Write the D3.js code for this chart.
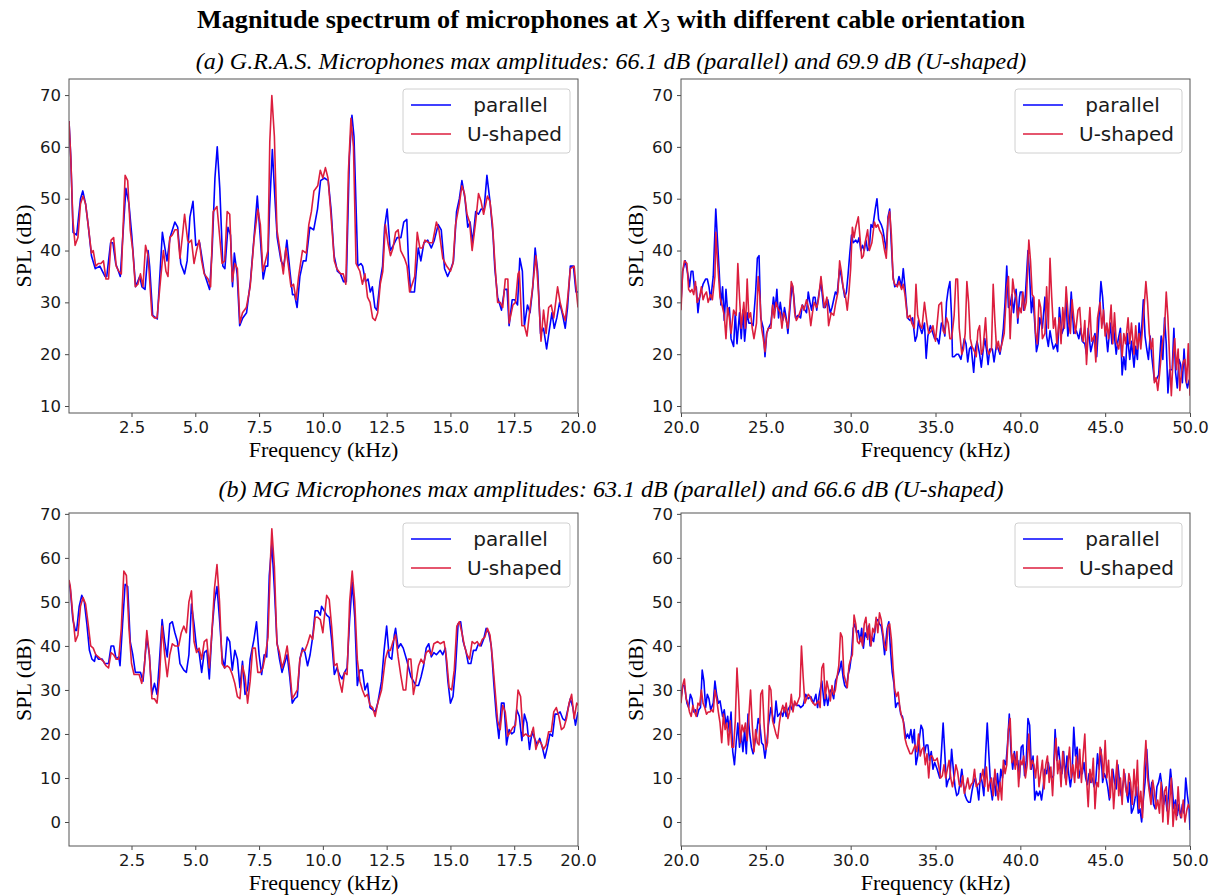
<!DOCTYPE html>
<html><head><meta charset="utf-8">
<script src="https://cdn.jsdelivr.net/npm/d3@7"></script>
<style>body{margin:0;background:#fff}</style>
</head><body>
<svg id="chart" width="1222" height="896"></svg>
<script>
// ---------- text ----------
const titleText = ["Magnitude spectrum of microphones at ", "X", "3", " with different cable orientation"];
const subtitleA = "(a) G.R.A.S. Microphones max amplitudes: 66.1 dB (parallel) and 69.9 dB (U-shaped)";
const subtitleB = "(b) MG Microphones max amplitudes: 63.1 dB (parallel) and 66.6 dB (U-shaped)";
const seriesNames = [" parallel", "U-shaped"];
const xLabel = "Frequency (kHz)";
const yLabel = "SPL (dB)";

// ---------- ticks ----------
const xTicksLow = [2.5, 5, 7.5, 10, 12.5, 15, 17.5, 20];
const xTicksHigh = [20, 25, 30, 35, 40, 45, 50];
const yTicksA = [10, 20, 30, 40, 50, 60, 70];
const yTicksB = [0, 10, 20, 30, 40, 50, 60, 70];

// ---------- data: [frequency kHz, SPL dB] ----------
const grasLowParallel = [[0.05,65],[0.12,58],[0.21,43.5],[0.35,43],[0.5,50],[0.59,51.5],[0.7,49],[0.8,45],[0.93,39],[1.08,36.5],[1.26,37],[1.46,35],[1.53,35],[1.68,41.5],[1.77,41.5],[1.88,37.5],[2.06,35],[2.28,52],[2.4,49],[2.51,43],[2.66,33],[2.82,35],[2.91,33],[3.03,32.5],[3.15,40],[3.21,37],[3.33,27.5],[3.51,26.8],[3.71,43.5],[3.89,38],[4.01,42.5],[4.2,45.5],[4.31,44.5],[4.43,37.5],[4.58,35.5],[4.68,38],[4.79,46.5],[4.91,49.5],[5.02,41],[5.17,41.5],[5.36,35.5],[5.56,32.5],[5.66,40],[5.77,54],[5.86,60],[5.96,52],[6.08,37],[6.16,36.5],[6.28,44.5],[6.38,43],[6.46,33],[6.53,39.5],[6.64,35.5],[6.74,25.5],[6.86,27],[7.01,28],[7.16,34],[7.31,43],[7.43,50.5],[7.54,43],[7.66,34.5],[7.76,37],[7.84,37],[7.91,48],[8.02,59.5],[8.11,51],[8.21,42.5],[8.36,38],[8.47,37],[8.59,42],[8.71,36],[8.81,31.5],[8.89,31.5],[8.99,29],[9.1,35],[9.23,38],[9.34,38],[9.49,44.5],[9.64,44],[9.79,48],[9.91,53.5],[10.06,54],[10.21,53.5],[10.32,48],[10.44,39],[10.57,36],[10.69,35.5],[10.81,34],[10.92,34],[11.04,58],[11.14,66.1],[11.22,62],[11.37,37],[11.49,37.5],[11.56,37],[11.67,34],[11.77,34.5],[11.86,32],[11.94,33],[12.04,29],[12.12,28.5],[12.24,34],[12.34,37],[12.42,44.5],[12.52,48],[12.64,40],[12.76,41],[12.91,42.5],[13.06,42.5],[13.17,45.5],[13.29,46],[13.36,37.5],[13.44,32],[13.59,32],[13.74,40.5],[13.84,38],[13.96,41.5],[14.11,42],[14.25,40.5],[14.37,42],[14.52,45],[14.64,44],[14.77,36.5],[14.89,35],[15.02,36.5],[15.12,38],[15.24,47.5],[15.35,50],[15.45,53.5],[15.57,50],[15.68,44.5],[15.77,45.5],[15.87,41.5],[15.99,47.5],[16.1,47],[16.2,48],[16.32,48],[16.43,54.5],[16.55,49.5],[16.67,43],[16.74,36.5],[16.85,31],[17.0,28.5],[17.12,32.5],[17.22,32.5],[17.3,25.5],[17.42,30.5],[17.52,30.5],[17.63,29.5],[17.72,38.5],[17.82,36],[17.9,25.5],[18.02,29.5],[18.12,28],[18.23,33],[18.32,40.5],[18.42,36],[18.53,24],[18.65,25],[18.77,21],[18.87,24.5],[18.98,28],[19.07,25],[19.17,27],[19.28,30],[19.4,27.5],[19.5,25],[19.59,29],[19.7,37],[19.82,37],[19.92,32],[20.0,32]];
const grasLowUshaped = [[0.05,65],[0.12,58],[0.2,46],[0.29,41],[0.4,42.5],[0.5,49],[0.6,50.5],[0.7,49],[0.8,45],[0.93,39.5],[1.0,40],[1.1,37],[1.2,37.5],[1.3,37.5],[1.4,38],[1.5,34.5],[1.6,34.5],[1.7,42],[1.8,42.5],[1.9,37],[2.0,36],[2.1,35.5],[2.25,54.5],[2.35,53.5],[2.45,44],[2.55,40],[2.65,33],[2.75,33.5],[2.85,35.5],[2.95,33],[3.05,41],[3.15,39],[3.3,27.5],[3.4,27],[3.5,27],[3.65,35],[3.75,40],[3.85,36],[3.93,35],[4.0,42.5],[4.1,43],[4.2,44],[4.3,44],[4.4,38.5],[4.5,43],[4.58,47],[4.7,42],[4.75,41.5],[4.85,42],[4.95,37.5],[5.05,40],[5.15,42],[5.25,38],[5.35,35.5],[5.5,34.5],[5.6,33],[5.7,47.5],[5.85,48.5],[5.95,43],[6.05,37.5],[6.15,38],[6.25,47.5],[6.35,47],[6.45,34],[6.55,37.5],[6.65,36.5],[6.75,26],[6.85,28],[7.0,29],[7.15,33],[7.3,42],[7.45,48],[7.55,45],[7.65,36],[7.75,38],[7.85,40],[7.92,61],[8.0,69.9],[8.1,62],[8.2,44],[8.35,39],[8.45,35.5],[8.55,40.5],[8.65,37],[8.75,33],[8.85,33.5],[8.95,30.5],[9.05,35],[9.2,40],[9.35,39.5],[9.45,45],[9.55,47.5],[9.65,51.5],[9.8,52.5],[9.9,55.5],[10.0,54],[10.1,56],[10.2,54],[10.3,48],[10.45,38],[10.55,36.5],[10.7,35.5],[10.8,35.5],[10.9,33.5],[11.0,55],[11.1,65.5],[11.2,60],[11.3,37.5],[11.45,36],[11.55,33.5],[11.65,35.5],[11.75,31],[11.85,30],[11.95,27],[12.05,26.5],[12.15,28],[12.25,33.5],[12.35,36],[12.45,45],[12.55,41.5],[12.65,39],[12.75,40.5],[12.85,43.5],[12.95,44],[13.05,40],[13.2,38.5],[13.3,37],[13.4,32],[13.5,33.5],[13.6,35],[13.7,43.5],[13.8,40.5],[13.9,40.5],[14.0,42],[14.15,41.5],[14.3,41.5],[14.45,45.5],[14.55,44],[14.7,38.5],[14.85,37],[15.0,36],[15.1,37.5],[15.2,45],[15.35,49],[15.45,52.5],[15.55,51],[15.65,47],[15.75,45.5],[15.85,40],[16.0,46],[16.1,51],[16.2,49.5],[16.3,47],[16.45,50.5],[16.55,49.5],[16.65,45],[16.75,37],[16.85,30],[16.95,30],[17.05,29],[17.15,34.5],[17.25,34.5],[17.3,26],[17.45,29.5],[17.55,30],[17.65,35.5],[17.7,36],[17.8,25.5],[17.9,25.5],[18.0,23.5],[18.1,28],[18.2,32],[18.35,39],[18.45,32],[18.55,22.5],[18.65,28.5],[18.75,24],[18.85,29],[18.95,29.5],[19.05,27],[19.2,33],[19.3,30],[19.4,28],[19.5,26.5],[19.6,31],[19.7,36.5],[19.85,37],[19.95,31.5],[20.0,29]];
const grasHighParallel = [[20.0,30],[20.1,36],[20.25,38],[20.4,35.5],[20.5,33],[20.6,36],[20.7,36],[20.8,32.5],[20.9,33],[21.0,28],[21.1,31],[21.3,33.5],[21.45,34.5],[21.55,34.5],[21.65,33],[21.75,30.5],[21.9,35],[22.05,48],[22.15,42],[22.25,36],[22.35,29.5],[22.45,33],[22.55,26.5],[22.65,32.5],[22.75,28],[22.85,29],[22.95,23],[23.1,21.5],[23.2,28],[23.3,22],[23.45,28],[23.55,23],[23.65,28.5],[23.75,22.5],[23.9,28],[24.0,26],[24.15,26],[24.25,25.5],[24.4,32],[24.5,38.5],[24.6,39],[24.7,27],[24.85,25],[24.95,19.5],[25.05,24],[25.15,25],[25.3,26],[25.45,31],[25.55,28.5],[25.65,32.5],[25.75,27],[25.85,30],[26.0,26.5],[26.1,29],[26.2,27],[26.3,24],[26.45,30],[26.55,33.5],[26.65,31],[26.75,27],[26.9,27.5],[27.05,27],[27.15,29.5],[27.3,28.5],[27.4,28],[27.5,32],[27.6,30],[27.7,28.5],[27.8,31],[27.9,31],[28.0,28.5],[28.1,31],[28.25,34],[28.4,29],[28.5,29],[28.65,30.5],[28.8,28],[28.9,29],[29.1,32],[29.2,31.5],[29.35,36.5],[29.45,35],[29.55,33],[29.65,31],[29.75,32],[29.85,35.5],[29.95,39.5],[30.05,43],[30.15,41.5],[30.3,42],[30.4,41.5],[30.5,42.5],[30.6,40],[30.7,41],[30.8,40],[30.9,42],[31.0,40],[31.1,40.5],[31.2,45],[31.3,44.5],[31.45,48],[31.55,50],[31.65,46],[31.8,45],[31.9,44],[32.0,42],[32.1,40],[32.2,46.5],[32.3,48],[32.4,41],[32.5,35],[32.6,33],[32.75,33.5],[32.85,35],[33.0,33],[33.1,36.5],[33.2,33],[33.35,27],[33.5,26.5],[33.65,27],[33.8,22.5],[33.9,23.5],[34.0,26.5],[34.1,25],[34.2,24],[34.35,26],[34.45,19.2],[34.55,23.5],[34.7,25.5],[34.8,24.5],[34.95,23],[35.1,23],[35.2,22],[35.35,26],[35.45,25.5],[35.55,23.5],[35.65,30],[35.75,32.5],[35.85,34],[35.95,27],[36.0,19.5],[36.1,19.5],[36.25,20],[36.35,20],[36.5,19],[36.6,21],[36.7,23],[36.8,22],[36.9,18.5],[37.0,21],[37.1,21.5],[37.25,16.5],[37.35,21],[37.45,22.5],[37.6,20],[37.7,17.5],[37.8,20.5],[37.9,23],[38.0,21],[38.1,18],[38.2,21],[38.35,21],[38.45,18.5],[38.6,22],[38.7,21],[38.8,20],[38.9,22],[39.0,25],[39.1,30],[39.2,37],[39.3,29],[39.4,29.5],[39.5,31.5],[39.6,28],[39.75,32.5],[39.85,26],[39.95,31],[40.0,32],[40.1,32],[40.2,28.5],[40.3,31.5],[40.45,40],[40.55,35],[40.65,28],[40.75,31],[40.85,26],[40.95,20.5],[41.05,22],[41.15,27],[41.3,25],[41.45,31],[41.55,23.5],[41.65,21.5],[41.75,24.5],[41.85,22.5],[41.95,21],[42.1,22],[42.2,20.5],[42.3,29],[42.45,24],[42.55,25],[42.7,30],[42.8,23.5],[42.9,26],[43.0,32],[43.15,24],[43.3,24.5],[43.45,23],[43.55,25],[43.65,22.5],[43.8,22],[43.9,20],[44.0,25],[44.15,20.5],[44.25,22],[44.4,24],[44.5,19.5],[44.6,25],[44.75,34],[44.85,31],[44.95,26],[45.05,24],[45.15,20.5],[45.3,26],[45.4,22],[45.5,25],[45.65,20],[45.75,22.5],[45.9,25],[46.0,16],[46.1,19.5],[46.2,17],[46.3,24],[46.45,19],[46.55,22.5],[46.7,17.5],[46.8,21.5],[46.9,19],[47.0,26],[47.1,22],[47.25,30.5],[47.35,23.5],[47.45,21],[47.55,19],[47.65,23.5],[47.75,19.5],[47.9,15],[48.0,15],[48.15,16],[48.3,23.5],[48.4,19],[48.5,27],[48.6,22],[48.7,12.5],[48.8,17],[48.95,17],[49.05,25],[49.15,16.5],[49.25,13.5],[49.35,19],[49.45,18],[49.55,14.5],[49.65,21],[49.75,15],[49.85,13.5],[49.95,15],[50.0,14.5]];
const grasHighUshaped = [[20.0,28.5],[20.1,36],[20.2,38],[20.35,37.5],[20.45,32.5],[20.55,32],[20.65,32.5],[20.75,31.5],[20.85,34],[20.95,30],[21.1,31],[21.2,33],[21.3,30.5],[21.4,31.5],[21.5,32],[21.6,30],[21.75,31.5],[21.85,30.5],[22.0,35],[22.05,43.5],[22.15,38],[22.3,31],[22.45,29],[22.55,27.5],[22.65,23],[22.75,29],[22.85,27],[22.95,24],[23.1,28.5],[23.25,27.5],[23.35,37.5],[23.45,31],[23.55,25],[23.7,30],[23.8,25],[23.9,34.5],[24.0,27],[24.1,28],[24.2,25],[24.3,23],[24.45,26],[24.55,35],[24.65,31],[24.75,25],[24.85,23],[24.95,20.5],[25.05,24],[25.15,25],[25.3,25],[25.4,29.5],[25.5,27],[25.6,30],[25.7,29],[25.85,28],[25.95,25],[26.05,28],[26.2,26.5],[26.3,25],[26.4,29],[26.5,34],[26.6,33],[26.7,28],[26.8,26.5],[26.95,27.5],[27.05,28.5],[27.15,29.5],[27.25,28.5],[27.4,30.5],[27.55,28.5],[27.65,25.5],[27.75,28],[27.85,30],[28.0,29],[28.1,30.5],[28.25,35],[28.35,32],[28.45,29],[28.6,31],[28.7,25.5],[28.85,28],[29.0,27.5],[29.1,29.5],[29.25,32],[29.35,38],[29.45,36],[29.55,33],[29.7,31],[29.8,28.5],[29.9,32],[30.0,36.5],[30.1,44.5],[30.2,42.5],[30.3,44.5],[30.45,46.5],[30.55,42.5],[30.65,38.5],[30.75,39],[30.85,41.5],[31.0,44],[31.1,40],[31.25,41.5],[31.4,45.5],[31.5,44.5],[31.6,45],[31.7,44],[31.85,43],[32.0,40],[32.1,38.5],[32.2,46],[32.3,47.5],[32.4,43],[32.5,34.5],[32.6,33.5],[32.75,33],[32.85,34],[33.0,32.5],[33.1,33.5],[33.2,31.5],[33.35,27],[33.5,27.5],[33.6,26],[33.75,25],[33.85,33.5],[33.95,27.5],[34.1,25.5],[34.2,25],[34.35,30],[34.5,26],[34.6,24],[34.75,24.5],[34.85,25.5],[35.0,22.5],[35.1,26],[35.2,29.5],[35.35,30],[35.45,24.5],[35.55,24],[35.65,27],[35.75,26],[35.85,23],[35.95,23],[36.1,27.5],[36.2,34.5],[36.3,34.5],[36.4,25],[36.55,20],[36.65,21],[36.75,24],[36.85,34],[36.95,30],[37.05,23],[37.15,21.5],[37.3,20.5],[37.4,19.5],[37.5,24.5],[37.6,25.5],[37.7,20],[37.8,21],[37.95,27],[38.05,21],[38.15,20],[38.3,21],[38.4,33.5],[38.5,26.5],[38.6,21],[38.7,22.5],[38.8,20.5],[38.95,22.5],[39.05,24],[39.2,33],[39.3,35],[39.4,23],[39.55,34.5],[39.65,32],[39.75,31],[39.85,27],[39.95,29],[40.05,28],[40.15,32],[40.25,28.5],[40.35,30],[40.5,42],[40.6,38],[40.7,31.5],[40.8,31],[40.9,24],[41.0,22],[41.1,30.5],[41.2,29],[41.3,23],[41.45,24],[41.55,33],[41.65,25],[41.75,38.5],[41.85,31],[41.95,25],[42.05,27],[42.15,22],[42.3,27],[42.4,22],[42.5,29],[42.6,25],[42.7,33],[42.85,26],[42.95,24],[43.05,30.5],[43.15,27],[43.25,24],[43.4,28.5],[43.5,29],[43.6,24],[43.7,22.5],[43.8,26.5],[43.9,18],[44.0,24],[44.1,29],[44.2,22.5],[44.35,23.5],[44.45,18.5],[44.55,27],[44.7,30],[44.8,25],[44.9,28.5],[45.0,23.5],[45.1,26],[45.2,23],[45.35,29.5],[45.45,22],[45.55,28],[45.65,22.5],[45.8,21],[45.9,24],[46.0,19.5],[46.1,24],[46.2,22],[46.35,27],[46.45,22],[46.55,26],[46.7,20],[46.8,25.5],[46.9,21],[47.0,24],[47.1,21],[47.25,27],[47.4,34],[47.5,30],[47.6,24],[47.7,21],[47.8,23],[47.9,14.5],[48.0,15.5],[48.1,13],[48.2,16],[48.35,21.5],[48.5,25],[48.6,32],[48.7,27],[48.8,19],[48.9,12],[49.0,19],[49.1,23],[49.2,17],[49.3,21],[49.4,13],[49.5,16.5],[49.6,18.5],[49.7,19],[49.8,14.5],[49.9,22],[50.0,12]];
const mgLowParallel = [[0.05,54.5],[0.1,53],[0.2,46],[0.3,43.5],[0.35,43.5],[0.45,49],[0.55,51.5],[0.65,50],[0.75,45],[0.85,39],[0.95,37],[1.05,36.5],[1.1,38],[1.2,37],[1.35,37],[1.45,36],[1.6,36],[1.7,40],[1.8,40],[1.9,37],[2.0,37.5],[2.05,35.5],[2.15,45],[2.25,54],[2.35,53.5],[2.45,41],[2.55,38],[2.65,34],[2.75,34],[2.85,34],[2.95,32],[3.1,42],[3.2,38],[3.3,29],[3.4,31.5],[3.5,29],[3.6,37],[3.7,46],[3.8,41],[3.9,37.5],[4.0,45],[4.1,45.5],[4.2,43],[4.3,41],[4.4,36],[4.55,34.5],[4.65,34],[4.75,38],[4.85,49.5],[4.95,45],[5.05,39.5],[5.15,38.5],[5.25,34],[5.35,38.5],[5.45,39],[5.55,32.5],[5.65,43],[5.75,50],[5.85,53.5],[5.95,46],[6.05,37.5],[6.15,35],[6.25,42],[6.35,41],[6.45,34.5],[6.55,39],[6.65,37],[6.75,30.5],[6.85,36.5],[6.95,29],[7.05,30],[7.15,37],[7.3,41.5],[7.4,45.5],[7.5,38],[7.6,33.5],[7.7,38],[7.8,37.5],[7.9,56],[8.0,63.1],[8.1,53],[8.2,41],[8.3,37],[8.4,34],[8.5,36],[8.6,38],[8.7,33],[8.8,27],[8.9,28],[9.0,28.5],[9.1,37],[9.2,39.5],[9.3,38.5],[9.4,35.5],[9.5,38],[9.6,42],[9.7,48],[9.8,48],[9.9,47],[9.95,49],[10.05,48],[10.15,47],[10.25,46.5],[10.35,41],[10.45,33.5],[10.55,35],[10.65,33.5],[10.75,32.5],[10.85,34],[10.95,35],[11.05,46],[11.15,54.5],[11.25,46.5],[11.35,31],[11.45,34.5],[11.55,34.5],[11.65,30],[11.75,31.5],[11.85,26],[11.95,25.5],[12.05,25],[12.15,27],[12.3,32],[12.4,39],[12.5,44.5],[12.6,37.5],[12.7,37],[12.8,42.5],[12.85,44],[12.95,39.5],[13.05,40.5],[13.15,39.5],[13.3,36.5],[13.45,33],[13.55,32],[13.65,31],[13.75,31],[13.85,33],[13.95,35.5],[14.05,39.5],[14.15,40.5],[14.25,37.5],[14.35,38.5],[14.45,38],[14.6,39],[14.7,38],[14.8,39.5],[14.9,32],[15.0,27],[15.1,28.5],[15.2,35],[15.3,45],[15.4,45.5],[15.5,41],[15.6,39],[15.7,36],[15.8,36],[15.9,39],[16.0,39],[16.1,40.5],[16.2,40],[16.3,41.5],[16.4,44],[16.5,43],[16.6,40],[16.7,31.5],[16.8,24],[16.9,19],[17.0,27],[17.1,27],[17.2,17.5],[17.3,21],[17.4,20],[17.5,20.5],[17.6,25.5],[17.7,24],[17.8,18.5],[17.9,24.5],[18.0,22.5],[18.1,16.5],[18.2,20.5],[18.3,19],[18.4,17.5],[18.5,19],[18.6,17],[18.7,14.5],[18.8,17],[18.9,20],[19.0,19.5],[19.1,24.5],[19.2,24.5],[19.3,25],[19.4,23.5],[19.5,23],[19.6,25.5],[19.7,28],[19.8,26],[19.9,22],[20.0,25]];
const mgLowUshaped = [[0.05,55],[0.1,53.5],[0.2,47],[0.3,41],[0.4,42.5],[0.5,49],[0.6,51],[0.7,49.5],[0.8,45],[0.9,40],[1.0,39.5],[1.1,38],[1.2,37.5],[1.3,37],[1.4,36.5],[1.5,35.5],[1.6,35],[1.7,38.5],[1.8,38],[1.9,37],[2.0,37],[2.1,44],[2.2,57],[2.3,56],[2.4,44],[2.5,36],[2.6,33.5],[2.7,33.5],[2.8,33.5],[2.9,31.5],[3.0,35],[3.1,43.5],[3.2,38],[3.3,28],[3.4,28],[3.5,27],[3.6,33],[3.7,44.5],[3.8,38],[3.9,33],[4.0,38],[4.1,40.5],[4.2,40],[4.35,40],[4.45,43],[4.55,44.5],[4.65,43],[4.75,50],[4.85,52.5],[4.95,41],[5.05,38.5],[5.15,39.5],[5.25,37],[5.35,41],[5.45,41.5],[5.55,35],[5.65,43],[5.75,53],[5.85,58.5],[5.95,50],[6.05,36],[6.15,35],[6.25,35.5],[6.35,35],[6.45,33.5],[6.55,31.5],[6.65,28.5],[6.75,28],[6.85,35.5],[6.95,33],[7.05,27],[7.15,32],[7.25,39.5],[7.35,39.5],[7.45,34],[7.55,34],[7.65,35],[7.75,38],[7.85,42],[7.95,60],[8.0,66.6],[8.1,58],[8.2,40.5],[8.3,38.5],[8.4,35],[8.5,37],[8.6,40],[8.7,35],[8.8,28],[8.9,29],[9.0,30],[9.1,37],[9.2,39],[9.3,39],[9.4,40.5],[9.5,42.5],[9.6,41.5],[9.7,46.5],[9.8,46.5],[9.9,46],[10.0,43],[10.05,46],[10.15,51.5],[10.25,50.5],[10.35,44],[10.45,35.5],[10.55,36],[10.65,32],[10.75,29.5],[10.85,34],[10.95,33.5],[11.05,50],[11.15,57],[11.25,50],[11.35,37],[11.45,32],[11.55,30],[11.65,28.5],[11.75,29],[11.85,26.5],[11.95,26],[12.05,24],[12.15,27],[12.3,30],[12.45,37],[12.55,39],[12.65,39],[12.75,41],[12.85,42.5],[12.95,37.5],[13.05,33.5],[13.15,30],[13.25,30],[13.35,37],[13.45,37],[13.55,29],[13.65,32],[13.75,35.5],[13.85,37],[13.95,36],[14.05,38.5],[14.15,39],[14.25,38],[14.35,40.5],[14.5,41],[14.6,40.5],[14.75,41],[14.85,37],[14.95,30.5],[15.05,30],[15.15,34.5],[15.25,44.5],[15.35,45.5],[15.45,43],[15.55,40],[15.65,38],[15.75,37],[15.85,41],[15.95,40.5],[16.05,41],[16.15,40],[16.25,41.5],[16.35,42],[16.45,44],[16.55,42.5],[16.65,37],[16.75,30],[16.85,23],[16.95,21],[17.05,26.5],[17.15,25],[17.25,19.5],[17.35,20.5],[17.45,21.5],[17.55,22],[17.65,30],[17.75,28.5],[17.85,19.5],[17.95,20],[18.05,19.5],[18.15,19.5],[18.25,21.5],[18.35,16.5],[18.45,18.5],[18.55,18],[18.65,16.5],[18.75,17.5],[18.85,20.5],[18.95,20.5],[19.05,25],[19.15,26],[19.25,24],[19.35,21],[19.45,21.5],[19.55,23.5],[19.65,27],[19.75,29],[19.85,23.5],[19.95,27],[20.0,26.5]];
const mgHighParallel = [[20.0,28],[20.1,31],[20.2,31],[20.35,27],[20.45,26],[20.55,29],[20.65,28],[20.75,25],[20.85,25.5],[20.95,24],[21.05,25.5],[21.15,26],[21.25,34.5],[21.35,32],[21.45,26],[21.55,29],[21.65,28],[21.75,25.5],[21.9,27],[22.0,32],[22.1,29],[22.2,27],[22.3,27.5],[22.45,24],[22.55,25.5],[22.65,22],[22.75,24],[22.85,20.5],[22.95,25],[23.05,16],[23.15,13],[23.25,18],[23.35,22.5],[23.45,17],[23.55,20],[23.65,16],[23.75,21],[23.85,15.5],[23.95,24.5],[24.05,20],[24.15,17],[24.25,15.5],[24.35,18],[24.45,20],[24.55,23.5],[24.65,22],[24.75,18],[24.85,17.5],[24.95,14.5],[25.05,17.5],[25.15,22],[25.3,26],[25.4,24],[25.5,22.5],[25.6,27.5],[25.7,24],[25.8,24.5],[25.9,25],[26.0,24],[26.1,26],[26.2,24],[26.3,25.5],[26.45,26.5],[26.55,25.5],[26.7,27],[26.8,26.5],[26.95,26.5],[27.05,26],[27.2,26.5],[27.35,29],[27.5,28],[27.65,28.5],[27.8,27],[27.95,29],[28.05,26],[28.15,29],[28.3,32],[28.45,26.5],[28.55,29],[28.65,26.5],[28.8,30],[28.9,29.5],[29.0,28],[29.1,32],[29.2,33],[29.35,34.5],[29.45,36.5],[29.55,33],[29.65,31],[29.75,30.5],[29.85,33.5],[29.95,35],[30.05,38],[30.15,44],[30.25,45],[30.35,43],[30.45,43.5],[30.55,41],[30.65,44],[30.75,39.5],[30.85,43],[30.95,42],[31.05,44.5],[31.15,40],[31.25,42],[31.35,41],[31.5,45.5],[31.6,46],[31.7,45],[31.8,44.5],[31.9,42],[32.0,38],[32.15,44],[32.25,45.5],[32.35,39],[32.45,34],[32.55,31.5],[32.65,26],[32.75,27],[32.85,27],[32.95,24.5],[33.05,24],[33.15,22],[33.25,19],[33.35,20],[33.45,19],[33.55,21],[33.65,18],[33.75,21],[33.85,13],[33.95,15],[34.05,19],[34.15,22],[34.25,21],[34.35,15.5],[34.45,17.5],[34.55,17.5],[34.65,14],[34.75,16],[34.85,12],[34.95,13.5],[35.1,12],[35.25,10],[35.35,16],[35.45,22.5],[35.55,15.5],[35.65,8],[35.75,9.5],[35.85,10],[35.95,16.5],[36.05,12],[36.15,8],[36.25,6],[36.35,6.5],[36.45,9],[36.55,12],[36.65,8.5],[36.75,6],[36.85,5],[36.95,4.5],[37.05,4.5],[37.15,7],[37.25,9],[37.35,10],[37.45,8],[37.55,5],[37.65,11],[37.75,9],[37.85,6],[37.95,15],[38.05,22.5],[38.15,15],[38.25,8],[38.35,5],[38.45,10],[38.55,6],[38.65,11],[38.75,7],[38.85,12],[38.95,10],[39.05,14],[39.15,13],[39.25,18],[39.35,24.5],[39.45,16],[39.55,12],[39.65,16],[39.75,13],[39.85,14],[39.95,10],[40.05,17],[40.15,17.5],[40.25,10.5],[40.35,14],[40.45,23.5],[40.55,22],[40.65,12],[40.75,15],[40.85,5],[40.95,7],[41.05,6],[41.15,7],[41.25,5],[41.35,8],[41.45,12],[41.55,11],[41.65,13.5],[41.75,11],[41.85,10],[41.95,10.5],[42.05,21],[42.15,14],[42.25,17],[42.35,13],[42.45,11],[42.55,16],[42.65,10],[42.75,15],[42.85,11],[42.95,8],[43.05,11],[43.15,21.5],[43.25,15],[43.35,17],[43.45,10],[43.55,12],[43.65,11],[43.75,13.5],[43.85,10],[43.95,8.5],[44.05,11],[44.15,9],[44.25,10],[44.35,8],[44.45,9.5],[44.55,15.5],[44.65,12],[44.75,16.5],[44.85,9],[44.95,11],[45.05,10],[45.15,8],[45.25,5],[45.35,9.5],[45.45,12],[45.55,9],[45.65,7.5],[45.75,13],[45.85,9],[45.95,6],[46.05,8.5],[46.15,11],[46.25,7],[46.35,4.5],[46.45,9],[46.55,2],[46.65,3],[46.75,5],[46.85,8],[46.95,2],[47.05,3],[47.15,0],[47.25,5],[47.35,9],[47.45,16.5],[47.55,10],[47.65,6],[47.75,9],[47.85,4],[47.95,3],[48.05,8],[48.15,9],[48.25,11],[48.35,8],[48.45,4],[48.55,6],[48.65,2.5],[48.75,7],[48.85,12],[48.95,8],[49.05,3],[49.15,5],[49.25,1.5],[49.35,4],[49.45,1],[49.55,4],[49.65,2],[49.75,10],[49.85,6],[49.95,3],[50.0,-1.8]];
const mgHighUshaped = [[20.0,27],[20.1,31],[20.2,32.5],[20.3,28],[20.4,27],[20.5,25],[20.6,24],[20.7,26.5],[20.8,25],[20.9,24],[21.0,27],[21.1,26.5],[21.2,30],[21.3,27],[21.4,26],[21.5,24.5],[21.6,25],[21.7,25],[21.8,25.5],[21.9,25],[22.0,30],[22.1,28],[22.2,25],[22.3,22.5],[22.4,18],[22.5,24.5],[22.6,21],[22.7,22.5],[22.8,17.5],[22.9,23],[23.0,17],[23.1,17],[23.2,23],[23.3,35],[23.4,28],[23.5,18],[23.6,22],[23.7,20.5],[23.8,22.5],[23.9,18.5],[24.0,24],[24.1,30],[24.2,22],[24.3,16],[24.4,21],[24.5,18],[24.6,17.5],[24.7,29],[24.8,30],[24.9,22],[25.0,16.5],[25.1,18],[25.2,31],[25.3,30],[25.4,23],[25.5,21.5],[25.6,20],[25.7,19],[25.8,22.5],[25.9,25],[26.0,26.5],[26.1,25],[26.2,27],[26.3,23.5],[26.4,25],[26.5,29],[26.6,25],[26.7,27.5],[26.8,26.5],[26.9,27.5],[27.0,28.5],[27.1,40],[27.2,33],[27.3,27],[27.4,28],[27.5,29],[27.6,28.5],[27.7,27.5],[27.8,27],[27.9,26.5],[28.0,27],[28.1,27.5],[28.2,26],[28.3,35],[28.4,36],[28.5,28],[28.6,32],[28.7,30],[28.8,27.5],[28.9,31],[29.0,29],[29.1,30],[29.2,33],[29.3,35.5],[29.4,43],[29.5,42],[29.6,33.5],[29.7,32],[29.8,30.5],[29.9,35.5],[30.0,37],[30.1,38],[30.2,47],[30.3,45],[30.4,41],[30.5,40.5],[30.6,42],[30.7,40],[30.8,45],[30.9,46.5],[31.0,41.5],[31.1,45],[31.2,40],[31.3,44],[31.4,43],[31.5,46.5],[31.6,43],[31.7,47.5],[31.8,46],[31.9,43],[32.0,40],[32.1,39],[32.2,44.5],[32.3,45],[32.4,41.5],[32.5,35],[32.6,30],[32.7,28.5],[32.8,29.5],[32.9,26],[33.0,24],[33.1,23],[33.2,19],[33.3,17.5],[33.4,16.5],[33.5,15.5],[33.6,15.5],[33.7,16.5],[33.8,17.5],[33.9,16],[34.0,20],[34.1,15],[34.2,16.5],[34.3,17],[34.4,13],[34.5,15.5],[34.6,10],[34.7,15],[34.8,15],[34.9,14],[35.0,14],[35.1,14.5],[35.2,12.5],[35.3,10],[35.4,10.5],[35.5,13],[35.6,10],[35.7,12],[35.8,14],[35.9,10],[36.0,8],[36.1,10],[36.2,13],[36.3,11.5],[36.4,8.5],[36.5,8],[36.6,10.5],[36.7,6.5],[36.8,8],[36.9,10],[37.0,7.5],[37.1,8.5],[37.2,9],[37.3,12],[37.4,8],[37.5,8.5],[37.6,9],[37.7,10],[37.8,12],[37.9,8],[38.0,12.5],[38.1,7],[38.2,9],[38.3,10],[38.4,6],[38.5,12],[38.6,8],[38.7,5],[38.8,9],[38.9,5],[39.0,14],[39.1,11],[39.2,13],[39.3,21],[39.4,23.5],[39.5,13.5],[39.6,15.5],[39.7,12],[39.8,16],[39.9,8],[40.0,14],[40.1,13],[40.2,15],[40.3,10],[40.4,13],[40.5,20],[40.6,12],[40.7,14],[40.8,13],[40.9,10],[41.0,15],[41.1,8],[41.2,11],[41.3,14],[41.4,7.5],[41.5,13],[41.6,15],[41.7,9],[41.8,12.5],[41.9,6],[42.0,14],[42.1,19],[42.2,11],[42.3,14],[42.4,8],[42.5,16],[42.6,12],[42.7,8.5],[42.8,13],[42.9,17],[43.0,10],[43.1,13],[43.2,9],[43.3,15],[43.4,10],[43.5,16.5],[43.6,9],[43.7,15],[43.8,20],[43.9,10],[44.0,3.5],[44.1,12],[44.2,9],[44.3,14.5],[44.4,3],[44.5,9],[44.6,8],[44.7,17],[44.8,15],[44.9,10],[45.0,18.5],[45.1,10],[45.2,14],[45.3,5.5],[45.4,12],[45.5,3],[45.6,9],[45.7,14],[45.8,6],[45.9,10],[46.0,4],[46.1,12],[46.2,8],[46.3,6],[46.4,11],[46.5,9],[46.6,4],[46.7,12],[46.8,6],[46.9,14],[47.0,3],[47.1,7],[47.2,1],[47.3,12],[47.4,18.5],[47.5,10],[47.6,7],[47.7,4],[47.8,9.5],[47.9,7],[48.0,3],[48.1,5],[48.2,2],[48.3,9],[48.4,0],[48.5,7],[48.6,8],[48.7,-0.5],[48.8,4.5],[48.9,10],[49.0,-1],[49.1,4],[49.2,0.5],[49.3,8],[49.4,2],[49.5,1],[49.6,5],[49.7,0],[49.8,2.5],[49.9,4],[50.0,3]];

// ---------- style ----------
const colParallel = "#0000ff";
const colUshaped = "#dc1e3e";
const serif = "'Liberation Serif','Times New Roman',serif";
const sans = "'DejaVu Sans',sans-serif";

const svg = d3.select("#chart");

// title
const t = svg.append("text").attr("x", 611).attr("y", 28).attr("text-anchor", "middle")
  .style("font-family", serif).style("font-weight", "bold").style("font-size", "26.2px").attr("fill", "#000");
t.append("tspan").text(titleText[0]);
t.append("tspan").text(titleText[1]).style("font-family", sans).style("font-style", "italic").style("font-weight", "normal").style("font-size", "23px");
t.append("tspan").text(titleText[2]).style("font-family", sans).style("font-weight", "normal").style("font-size", "17px").attr("dy", 4);
t.append("tspan").text(titleText[3]).attr("dy", -4);

svg.append("text").attr("x", 611).attr("y", 69).attr("text-anchor", "middle")
  .style("font-family", serif).style("font-style", "italic").style("font-size", "24px").text(subtitleA);
svg.append("text").attr("x", 611).attr("y", 497).attr("text-anchor", "middle")
  .style("font-family", serif).style("font-style", "italic").style("font-size", "24px").text(subtitleB);

const panels = [
  {l:69, t:79, r:578, b:413, xDom:[0.05,20], yDom:[8.65,73.1], xt:xTicksLow, yt:yTicksA, p:grasLowParallel, u:grasLowUshaped},
  {l:681, t:79, r:1190, b:413, xDom:[20,50], yDom:[8.65,73.1], xt:xTicksHigh, yt:yTicksA, p:grasHighParallel, u:grasHighUshaped},
  {l:69, t:513, r:578, b:846, xDom:[0.05,20], yDom:[-5.45,70.2], xt:xTicksLow, yt:yTicksB, p:mgLowParallel, u:mgLowUshaped},
  {l:681, t:513, r:1190, b:846, xDom:[20,50], yDom:[-5.45,70.2], xt:xTicksHigh, yt:yTicksB, p:mgHighParallel, u:mgHighUshaped}
];

panels.forEach((P, i) => {
  const x = d3.scaleLinear().domain(P.xDom).range([P.l, P.r]);
  const y = d3.scaleLinear().domain(P.yDom).range([P.b, P.t]);
  const g = svg.append("g");
  const cid = "clip" + i;
  svg.append("clipPath").attr("id", cid).append("rect")
    .attr("x", P.l).attr("y", P.t).attr("width", P.r - P.l).attr("height", P.b - P.t);

  const line = d3.line().x(d => x(d[0])).y(d => y(d[1]));
  g.append("path").datum(P.p).attr("d", line).attr("fill", "none")
    .attr("stroke", colParallel).attr("stroke-width", 1.6).attr("stroke-linejoin", "round").attr("clip-path", `url(#${cid})`);
  g.append("path").datum(P.u).attr("d", line).attr("fill", "none")
    .attr("stroke", colUshaped).attr("stroke-width", 1.6).attr("stroke-linejoin", "round").attr("clip-path", `url(#${cid})`);

  // axes
  const xa = g.append("g").attr("transform", `translate(0,${P.b})`)
    .call(d3.axisBottom(x).tickValues(P.xt).tickFormat(d3.format(".1f")).tickSize(4).tickSizeOuter(0).tickPadding(4));
  const ya = g.append("g").attr("transform", `translate(${P.l},0)`)
    .call(d3.axisLeft(y).tickValues(P.yt).tickFormat(d3.format("d")).tickSize(4).tickSizeOuter(0).tickPadding(4));
  [xa, ya].forEach(a => {
    a.select(".domain").remove();
    a.selectAll("line").attr("stroke", "#333").attr("stroke-width", 0.9);
    a.selectAll("text").style("font-family", sans).style("font-size", "16.5px").attr("fill", "#1a1a1a");
  });

  // frame
  g.append("rect").attr("x", P.l).attr("y", P.t).attr("width", P.r - P.l).attr("height", P.b - P.t)
    .attr("fill", "none").attr("stroke", "#555").attr("stroke-width", 1);

  // axis labels
  g.append("text").attr("x", (P.l + P.r) / 2).attr("y", P.b + 44).attr("text-anchor", "middle")
    .style("font-family", serif).style("font-size", "22px").text(xLabel);
  g.append("text").attr("transform", `translate(${P.l - 38},${(P.t + P.b) / 2}) rotate(-90)`).attr("text-anchor", "middle")
    .style("font-family", serif).style("font-size", "22px").text(yLabel);

  // legend
  const bx = P.r - 175, by = P.t + 10, bw = 167, bh = 64;
  const lg = g.append("g");
  lg.append("rect").attr("x", bx).attr("y", by).attr("width", bw).attr("height", bh).attr("rx", 3)
    .attr("fill", "#fff").attr("fill-opacity", 0.8).attr("stroke", "#d0d0d0").attr("stroke-width", 1);
  [[seriesNames[0], colParallel], [seriesNames[1], colUshaped]].forEach((s, k) => {
    const yy = by + 16 + k * 29;
    lg.append("line").attr("x1", bx + 8).attr("x2", bx + 48).attr("y1", yy).attr("y2", yy)
      .attr("stroke", s[1]).attr("stroke-width", 1.6);
    lg.append("text").attr("x", bx + 64).attr("y", yy + 7).attr("xml:space", "preserve")
      .style("white-space", "pre").style("font-family", sans).style("font-size", "20px").attr("fill", "#1a1a1a").text(s[0]);
  });
});
</script>
</body></html>
